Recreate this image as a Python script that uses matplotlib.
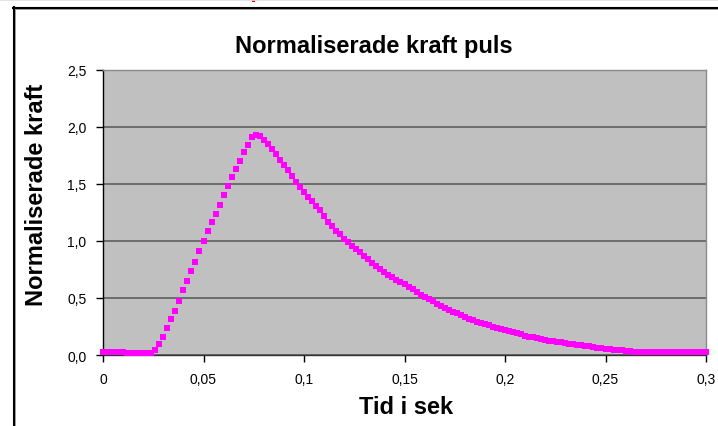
import numpy as np
import matplotlib
matplotlib.use("Agg")
import matplotlib.pyplot as plt
from matplotlib.lines import Line2D
from matplotlib.patches import Rectangle

# ---- data ----
dt = 0.002  # sample interval in seconds
force = [
    0.03, 0.03, 0.03, 0.03, 0.03, 0.03,
    0.02, 0.02, 0.02, 0.02, 0.02, 0.02, 0.02,
    0.04, 0.10, 0.16, 0.24, 0.32, 0.39, 0.47, 0.57, 0.65, 0.74,
    0.82, 0.91, 1.00, 1.09, 1.17, 1.24, 1.32, 1.40, 1.48, 1.56,
    1.63, 1.70, 1.78, 1.84, 1.91, 1.93, 1.92, 1.89, 1.85, 1.81,
    1.76, 1.71, 1.67, 1.62, 1.57, 1.52, 1.47, 1.43, 1.39, 1.35,
    1.31, 1.27, 1.22, 1.17, 1.13, 1.09, 1.06, 1.02, 0.99, 0.96,
    0.93, 0.90, 0.87, 0.84, 0.81, 0.78, 0.755, 0.73, 0.705, 0.68,
    0.66, 0.64, 0.62, 0.60, 0.58, 0.55, 0.53, 0.51, 0.49, 0.47,
    0.45, 0.43, 0.41, 0.395, 0.38, 0.365, 0.35, 0.335, 0.32, 0.305,
    0.29, 0.28, 0.27, 0.26, 0.25, 0.24, 0.23, 0.22, 0.21, 0.20,
    0.19, 0.18, 0.17, 0.16, 0.155, 0.145, 0.14, 0.13, 0.125, 0.12,
    0.115, 0.11, 0.105, 0.10, 0.095, 0.09, 0.085, 0.08, 0.075, 0.07,
    0.065, 0.06, 0.055, 0.05, 0.048, 0.045, 0.04, 0.037, 0.034, 0.03,
    0.028, 0.026, 0.025,
    0.022, 0.022, 0.022, 0.022, 0.022, 0.022, 0.022, 0.022,
    0.022, 0.022, 0.022, 0.022, 0.022, 0.022, 0.022,
]
time = np.arange(len(force)) * dt

x_ticks = [0, 0.05, 0.1, 0.15, 0.2, 0.25, 0.3]
x_tick_labels = ["0", "0,05", "0,1", "0,15", "0,2", "0,25", "0,3"]
y_ticks = [0.0, 0.5, 1.0, 1.5, 2.0, 2.5]
y_tick_labels = ["0,0", "0,5", "1,0", "1,5", "2,0", "2,5"]

title = "Normaliserade kraft puls"
xlabel = "Tid i sek"
ylabel = "Normaliserade kraft"

# ---- figure ----
W, H = 718, 427
fig = plt.figure(figsize=(W / 100, H / 100), dpi=100)
fig.patch.set_facecolor("white")

narrow = ["Liberation Sans Narrow", "Liberation Sans", "DejaVu Sans"]
regular = ["Liberation Sans", "DejaVu Sans"]

left, right, top, bottom = 103, 706, 71, 356
ax = fig.add_axes([left / W, 1 - bottom / H, (right - left) / W, (bottom - top) / H])
ax.set_facecolor("#C0C0C0")

ax.plot(time, force, linestyle="none", marker="s", markersize=4.0,
        markerfacecolor="#FF00FF", markeredgecolor="#FF00FF", markeredgewidth=0,
        clip_on=False, zorder=5)

ax.set_xlim(0, 0.3)
ax.set_ylim(0, 2.5)
ax.set_xticks(x_ticks)
ax.set_xticklabels(x_tick_labels, family=regular, fontsize=10)
ax.set_yticks(y_ticks)
ax.set_yticklabels(y_tick_labels, family=regular, fontsize=10)
ax.tick_params(axis="both", direction="out", length=5, width=1, color="black", pad=7)

ax.grid(axis="y", color="#555555", linewidth=1.1)
ax.set_axisbelow(True)

for s in ["top", "right"]:
    ax.spines[s].set_color("#8a8a8a")
    ax.spines[s].set_linewidth(1.0)
ax.spines["left"].set_color("black")
ax.spines["bottom"].set_color("#333333")
ax.spines["left"].set_linewidth(1.0)
ax.spines["bottom"].set_linewidth(1.0)

# texts
fig.text(374 / W, 1 - 46 / H, title, ha="center", va="center",
         fontsize=17, fontweight="bold", family=narrow)
fig.text(406 / W, 1 - 408 / H, xlabel, ha="center", va="center",
         fontsize=17, fontweight="bold", family=narrow)
fig.text(37 / W, 1 - 195 / H, ylabel, ha="center", va="center", rotation=90,
         fontsize=17, fontweight="bold", family=narrow)

# chart-area frame (cut off at the right/bottom of the screenshot)
fig.add_artist(Line2D([13.5 / W, 13.5 / W], [0, 1 - 8 / H], transform=fig.transFigure,
                      color="black", linewidth=1.5))
fig.add_artist(Line2D([13 / W, 1], [1 - 8.5 / H, 1 - 8.5 / H], transform=fig.transFigure,
                      color="black", linewidth=1.5))
fig.add_artist(Line2D([15 / W, 15 / W], [0, 1 - 10 / H], transform=fig.transFigure,
                      color="#999999", linewidth=0.7))
fig.add_artist(Line2D([15 / W, 1], [1 - 10 / H, 1 - 10 / H], transform=fig.transFigure,
                      color="#999999", linewidth=0.7))
# top strip of the screenshot
fig.add_artist(Line2D([0, 1], [1 - 0.5 / H, 1 - 0.5 / H], transform=fig.transFigure,
                      color="#e0e0e0", linewidth=1.2))
fig.add_artist(Rectangle((252 / W, 1 - 3 / H), 3 / W, 3 / H, transform=fig.transFigure,
                         facecolor="red", edgecolor="none"))

fig.savefig("out.png", dpi=100)
